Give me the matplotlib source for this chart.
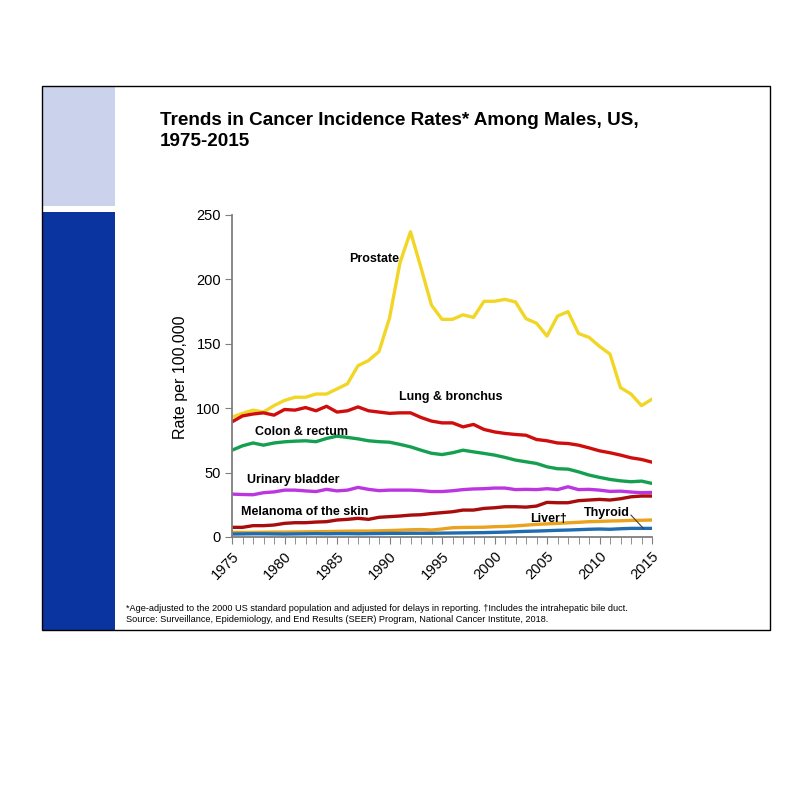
import matplotlib
matplotlib.use("Agg")
import matplotlib.pyplot as plt
from matplotlib.patches import Rectangle
import numpy as np

plt.rcParams['font.family'] = ['Liberation Sans', 'DejaVu Sans']

years = np.arange(1975, 2016)

prostate = [93, 96, 98.5, 97, 102, 106, 108.5, 108.5, 111, 111, 115, 119, 133, 137, 144,
            170, 213, 237, 209, 180, 169, 169, 172.5, 170.5, 183, 183, 184.5, 182.5, 169.5,
            166, 156, 171.5, 175, 158, 155, 148, 142, 116, 111, 102, 107]
lung = [89.4, 94, 95.5, 96.4, 94.6, 99, 98.5, 100.5, 98, 101.5, 97, 98, 101, 98, 97,
        96, 96.4, 96.4, 92.8, 90, 88.6, 88.6, 85.5, 87.4, 83.5, 81.6, 80.4, 79.6, 79,
        75.7, 74.7, 73, 72.6, 71.3, 69.2, 66.9, 65.4, 63.6, 61.5, 60.2, 58.1]
colon = [67.4, 70.8, 73, 71.3, 73, 73.9, 74.4, 74.7, 74, 76.5, 78.3, 77.3, 76.2, 74.7, 74,
         73.6, 71.9, 70, 67.4, 65, 64, 65.4, 67.4, 66.1, 64.9, 63.6, 61.8, 59.7, 58.4,
         57.1, 54.5, 53, 52.7, 50.6, 48.1, 46.3, 44.7, 43.6, 42.9, 43.4, 41.6]
bladder = [33.3, 33, 32.8, 34.4, 35, 36.4, 36.4, 35.8, 35.3, 37, 35.8, 36.4, 38.5, 37, 36,
           36.4, 36.4, 36.4, 36, 35.3, 35.3, 35.9, 36.8, 37.3, 37.5, 38, 38, 36.8, 37,
           36.8, 37.5, 36.8, 39, 36.8, 37, 36.4, 35.4, 35.6, 34.9, 34.4, 34.6]
melanoma = [7.5, 7.5, 8.8, 8.8, 9.3, 10.6, 11.1, 11.1, 11.6, 11.9, 13.2, 13.7, 14.5, 13.7,
            15.3, 15.8, 16.3, 17, 17.3, 18.2, 18.9, 19.6, 20.9, 20.9, 22.2, 22.7, 23.5,
            23.5, 23.2, 24, 26.9, 26.6, 26.6, 28.2, 28.7, 29.2, 28.7, 29.7, 31.2, 31.8, 31.8]
liver = [3.6, 3.5, 3.6, 3.7, 3.8, 3.8, 3.9, 4.0, 4.1, 4.2, 4.4, 4.5, 4.6, 4.6, 4.8,
         5.0, 5.3, 5.6, 5.8, 5.4, 6.2, 7.2, 7.4, 7.5, 7.6, 8.0, 8.2, 8.6, 9.2, 9.8,
         10.2, 10.6, 11.0, 11.4, 11.9, 12.1, 12.4, 12.6, 12.9, 13.0, 13.2]
thyroid = [2.3, 2.4, 2.5, 2.5, 2.4, 2.3, 2.4, 2.5, 2.6, 2.5, 2.6, 2.6, 2.5, 2.6, 2.7,
           2.8, 2.8, 2.9, 2.9, 2.9, 3.0, 3.1, 3.2, 3.3, 3.4, 3.6, 3.8, 4.1, 4.4, 4.6,
           4.9, 5.2, 5.4, 5.7, 6.0, 6.2, 6.0, 6.4, 6.7, 6.7, 6.7]

fig = plt.figure(figsize=(8, 8), dpi=100)

# left side bars of the slide, then the frame on top
fig.patches.append(Rectangle((42 / 800, 1 - 205.5 / 800), 73 / 800, 119.5 / 800,
                             transform=fig.transFigure, facecolor='#cbd3ec',
                             edgecolor='none', zorder=1))
fig.patches.append(Rectangle((42 / 800, 1 - 630 / 800), 73 / 800, 418 / 800,
                             transform=fig.transFigure, facecolor='#0a34a0',
                             edgecolor='none', zorder=1))
fig.patches.append(Rectangle((42 / 800, 1 - 630 / 800), 728 / 800, 544 / 800,
                             transform=fig.transFigure, fill=False,
                             edgecolor='black', linewidth=1, zorder=2))

fig.text(160 / 800, 1 - 112 / 800,
         'Trends in Cancer Incidence Rates* Among Males, US,\n1975-2015',
         fontsize=13.6, fontweight='bold', va='top', ha='left', linespacing=1.3)

ax = fig.add_axes([232 / 800, 1 - 537 / 800, 420 / 800, 322 / 800])

lw = 2.4
ax.plot(years, prostate, color='#f2d626', lw=lw)
ax.plot(years, lung, color='#d00d0d', lw=lw)
ax.plot(years, colon, color='#14a050', lw=lw)
ax.plot(years, bladder, color='#bb35e0', lw=lw)
ax.plot(years, melanoma, color='#a80c0c', lw=lw)
ax.plot(years, liver, color='#eba21c', lw=lw)
ax.plot(years, thyroid, color='#1f6db0', lw=lw)

ax.set_xlim(1975, 2015)
ax.set_ylim(0, 250)
ax.set_xticks(range(1975, 2016, 5))
ax.set_xticks(range(1975, 2016), minor=True)
ax.set_yticks(range(0, 251, 50))
ax.tick_params(axis='x', which='both', direction='out', length=5, color='#7f7f7f', labelsize=10.5)
ax.tick_params(axis='y', direction='out', length=5, color='#7f7f7f', labelsize=10.5, pad=3)
for lab in ax.get_xticklabels():
    lab.set_rotation(45)
    lab.set_ha('right')
    lab.set_rotation_mode('anchor')
for side in ['top', 'right']:
    ax.spines[side].set_visible(False)
for side in ['left', 'bottom']:
    ax.spines[side].set_color('#7f7f7f')
    ax.spines[side].set_linewidth(1.3)

fig.text(181 / 800, 1 - 377 / 800, 'Rate per 100,000', rotation=90,
         fontsize=11.5, va='center', ha='center')

lab_kw = dict(fontsize=9, fontweight='bold', va='center')
ax.text(1988.5, 215.8, 'Prostate', ha='center', **lab_kw)
ax.text(1990.9, 109, 'Lung & bronchus', ha='left', **lab_kw)
ax.text(1977.2, 81.8, 'Colon & rectum', ha='left', **lab_kw)
ax.text(1976.4, 44.3, 'Urinary bladder', ha='left', **lab_kw)
ax.text(1975.9, 19.6, 'Melanoma of the skin', ha='left', **lab_kw)
ax.text(2003.4, 13.7, 'Liver\u2020', ha='left', **lab_kw)
ax.text(2008.5, 18.9, 'Thyroid', ha='left', **lab_kw)
ax.plot([2013.0, 2014.2], [17.0, 6.5], color='#404040', lw=0.8)

fig.text(126 / 800, 1 - 614 / 800,
         '*Age-adjusted to the 2000 US standard population and adjusted for delays in reporting. '
         '\u2020Includes the intrahepatic bile duct.\n'
         'Source: Surveillance, Epidemiology, and End Results (SEER) Program, '
         'National Cancer Institute, 2018.',
         fontsize=6.6, va='center', ha='left', linespacing=1.3)

fig.savefig('out.png', dpi=100)
